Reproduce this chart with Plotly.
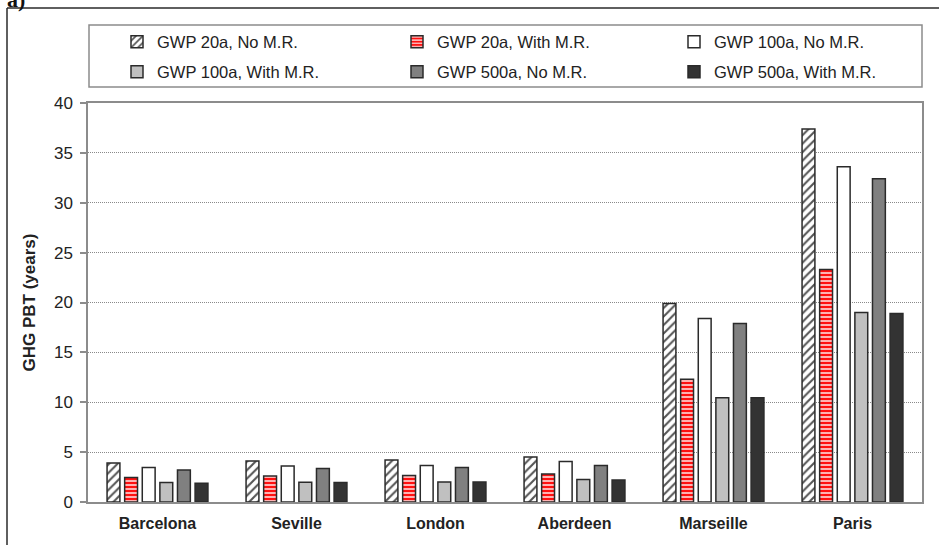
import plotly.graph_objects as go

cities = ["Barcelona", "Seville", "London", "Aberdeen", "Marseille", "Paris"]
gwp20_no = [3.9, 4.1, 4.2, 4.5, 19.9, 37.4]
gwp20_with = [2.45, 2.6, 2.65, 2.8, 12.3, 23.3]
gwp100_no = [3.45, 3.6, 3.65, 4.05, 18.4, 33.6]
gwp100_with = [1.95, 1.97, 2.0, 2.25, 10.45, 19.0]
gwp500_no = [3.2, 3.35, 3.45, 3.65, 17.9, 32.4]
gwp500_with = [1.87, 1.95, 2.0, 2.2, 10.45, 18.9]
y_ticks = [0, 5, 10, 15, 20, 25, 30, 35, 40]

W, H = 939, 545
L, R, T, B = 88, 922, 103, 502


def px(x):
    return (x - L) / (R - L)


def py(y):
    return (B - y) / (B - T)


FONT = "Arial, Liberation Sans, sans-serif"
line = dict(color="#2a2a2a", width=1.5)

series = [
    ("GWP 20a, No M.R.", gwp20_no,
     dict(color="white", line=line,
          pattern=dict(shape="/", fgcolor="#555555", bgcolor="white", size=6, solidity=0.35, fillmode="replace"))),
    ("GWP 20a, With M.R.", gwp20_with,
     dict(color="#ff1010", line=line,
          pattern=dict(shape="-", fgcolor="#ffc4c4", bgcolor="#ff1010", size=4, solidity=0.45, fillmode="replace"))),
    ("GWP 100a, No M.R.", gwp100_no, dict(color="white", line=line)),
    ("GWP 100a, With M.R.", gwp100_with, dict(color="#c0c0c0", line=line)),
    ("GWP 500a, No M.R.", gwp500_no, dict(color="#808080", line=line)),
    ("GWP 500a, With M.R.", gwp500_with, dict(color="#333333", line=line)),
]

# legend entry positions (symbol centre x, row centre y) in pixels
leg_pos = [(143, 42), (423, 42), (700, 42), (143, 72), (423, 72), (700, 72)]

fig = go.Figure()
legends = {}
for i, (name, vals, marker) in enumerate(series):
    lg = "legend" if i == 0 else f"legend{i + 1}"
    fig.add_trace(go.Bar(x=cities, y=vals, name=name, marker=marker, legend=lg, showlegend=True))
    sx, sy = leg_pos[i]
    legends[lg] = dict(
        orientation="v", xanchor="left", yanchor="middle",
        x=px(sx - 26), y=py(sy),
        font=dict(family=FONT, size=16.5, color="#222222"),
        bgcolor="rgba(0,0,0,0)", borderwidth=0, visible=True,
    )

fig.update_layout(
    width=W, height=H, showlegend=True,
    margin=dict(l=L, r=W - R, t=T, b=H - B, pad=0),
    paper_bgcolor="white", plot_bgcolor="white",
    barmode="group", bargap=0.24, bargroupgap=0.27,
    font=dict(family=FONT, color="#222222"),
    xaxis=dict(
        showline=True, linecolor="#8c8c8c", linewidth=1.5, mirror=True,
        ticks="", showgrid=False,
        tickfont=dict(family=FONT, size=16, color="#222222", weight="bold"),
        ticklabelstandoff=6,
    ),
    yaxis=dict(
        range=[0, 40], tickvals=y_ticks,
        showline=True, linecolor="#8c8c8c", linewidth=1.5, mirror=True,
        ticks="outside", ticklen=6, tickcolor="#8c8c8c", tickwidth=1.5,
        showgrid=True, gridcolor="#8a8a8a", griddash="1px,1px", gridwidth=1,
        tickfont=dict(family=FONT, size=17, color="#222222"),
        ticklabelstandoff=4,
        title=dict(text="GHG PBT (years)",
                   font=dict(family=FONT, size=17, color="#222222", weight="bold"),
                   standoff=14),
        zeroline=False,
    ),
    shapes=[
        dict(type="rect", xref="paper", yref="paper",
             x0=px(89), x1=px(922), y0=py(87), y1=py(25),
             line=dict(color="#8c8c8c", width=1.5), fillcolor="rgba(0,0,0,0)", layer="below"),
        dict(type="line", xref="paper", yref="paper",
             x0=px(7), x1=px(945), y0=py(8), y1=py(8),
             line=dict(color="#2a2a2a", width=1.5)),
        dict(type="line", xref="paper", yref="paper",
             x0=px(7), x1=px(7), y0=py(8), y1=py(550),
             line=dict(color="#2a2a2a", width=1.5)),
    ],
    annotations=[
        dict(text="<b>a)</b>", xref="paper", yref="paper",
             x=px(5), y=py(14), xanchor="left", yanchor="bottom",
             showarrow=False,
             font=dict(family="Liberation Serif, Times New Roman, serif", size=22, color="#111111")),
    ],
)
fig.update_layout(**legends)

fig.write_html("out.html", config={"displayModeBar": False},
               post_script="document.body.style.margin='0';document.body.style.overflow='hidden';")
